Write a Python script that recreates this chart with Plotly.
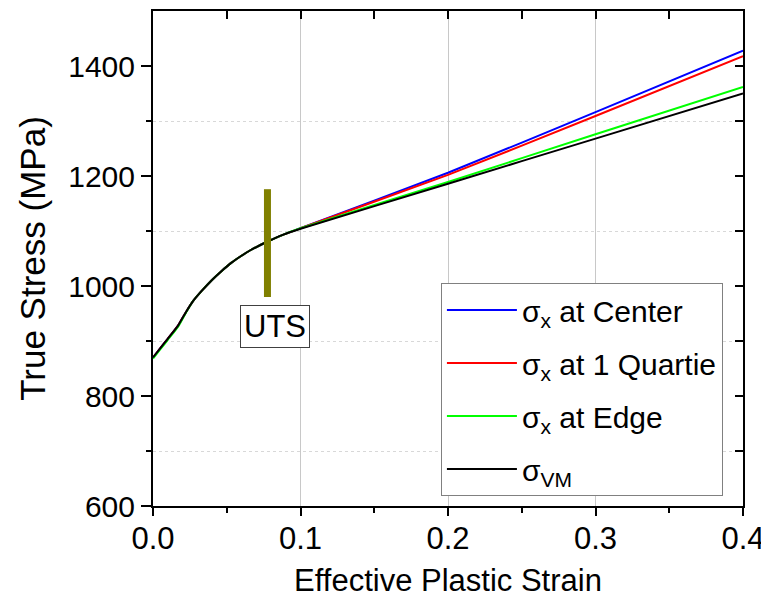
import plotly.graph_objects as go

strain = [0.0, 0.005, 0.010, 0.017, 0.022, 0.027, 0.033, 0.040, 0.046, 0.053, 0.060, 0.066, 0.077, 0.088, 0.100, 0.200, 0.300, 0.400]
base_curve = [870, 887, 904, 928, 951, 972, 991, 1011, 1026, 1042, 1055, 1065, 1080, 1093, 1105]
center = base_curve + [1206, 1316, 1428]
quartie = base_curve + [1202, 1309, 1418]
edge = [868, 885, 902, 926, 950, 972, 991, 1011, 1026, 1042, 1055, 1065, 1080, 1093, 1105, 1189, 1276, 1362]
vm = base_curve[:-1] + [1104, 1186, 1268, 1350]

names = ["σ<sub>x</sub> at Center", "σ<sub>x</sub> at 1 Quartie", "σ<sub>x</sub> at Edge", "σ<sub>VM</sub>"]
colors = ["#0000ff", "#ff0000", "#00ff00", "#000000"]
series = [center, quartie, edge, vm]

uts_strain = [0.0776, 0.0776]
uts_bar = [980, 1176]
uts_label_pos = (0.0827, 927)

x_range = [0, 0.4]
y_range = [600, 1500]

fig = go.Figure()
for i, (nm, c, s) in enumerate(zip(names, colors, series)):
    fig.add_trace(go.Scatter(x=strain, y=s, mode="lines", name=nm, line_shape="spline",
                             line=dict(color=c, width=2, smoothing=0.5), legendgroup=f"g{i}"))

fig.add_trace(go.Scatter(x=uts_strain, y=uts_bar, mode="lines", showlegend=False,
                         line=dict(color="#808000", width=7), hoverinfo="skip"))

fig.add_trace(go.Scatter(x=x_range, y=y_range, xaxis="x2", yaxis="y2", mode="lines",
                         line=dict(width=0), showlegend=False, hoverinfo="skip"))

font = "Liberation Sans, Arial, sans-serif"
fig.update_layout(
    width=761, height=597,
    margin=dict(l=145, r=26, t=3, b=99, autoexpand=False),
    paper_bgcolor="white", plot_bgcolor="white",
    font=dict(family=font, size=30, color="black"),
    xaxis=dict(range=x_range, dtick=0.1, tickformat=".1f", showline=True, linecolor="black", linewidth=2,
               ticks="outside", ticklen=8, tickwidth=2, tickcolor="black", automargin=False,
               ticklabelstandoff=-4,
               showgrid=True, gridcolor="#c8c8c8", gridwidth=1, zeroline=False,
               minor=dict(dtick=0.05, ticks="outside", ticklen=5, tickwidth=2, tickcolor="black", showgrid=False),
               title=dict(text="Effective Plastic Strain", standoff=14, font=dict(size=31)),
               tickfont=dict(size=31)),
    yaxis=dict(range=y_range, tickvals=[600, 800, 1000, 1200, 1400], showline=True, linecolor="black", linewidth=2,
               ticks="outside", ticklen=10, tickwidth=2, tickcolor="black", automargin=False,
               showgrid=False, zeroline=False,
               minor=dict(tickvals=[700, 900, 1100, 1300], ticks="outside", ticklen=5, tickwidth=2, tickcolor="black",
                          showgrid=True, gridcolor="#d8d8d8", griddash="dot", gridwidth=1),
               title=dict(text="True Stress (MPa)", standoff=12, font=dict(size=35)),
               tickfont=dict(size=30)),
    xaxis2=dict(range=x_range, overlaying="x", side="top", dtick=0.05, showticklabels=False,
                showline=True, linecolor="black", linewidth=2, ticks="inside", ticklen=8, tickwidth=2,
                tickcolor="black", showgrid=False, zeroline=False),
    yaxis2=dict(range=y_range, overlaying="y", side="right", dtick=100, showticklabels=False,
                showline=True, linecolor="black", linewidth=2, ticks="inside", ticklen=8, tickwidth=2,
                tickcolor="black", showgrid=False, zeroline=False),
    legend=dict(x=0.488, y=0.4505, xanchor="left", yanchor="top", bgcolor="white",
                bordercolor="#808080", borderwidth=1, font=dict(size=30), tracegroupgap=11,
                traceorder="grouped", itemwidth=70),
    annotations=[dict(x=uts_label_pos[0], y=uts_label_pos[1], xref="x", yref="y", text="UTS",
                      showarrow=False, font=dict(size=31), bordercolor="#404040", borderwidth=1,
                      bgcolor="white", borderpad=3)],
    showlegend=True,
)

fig.write_html("out.html")
